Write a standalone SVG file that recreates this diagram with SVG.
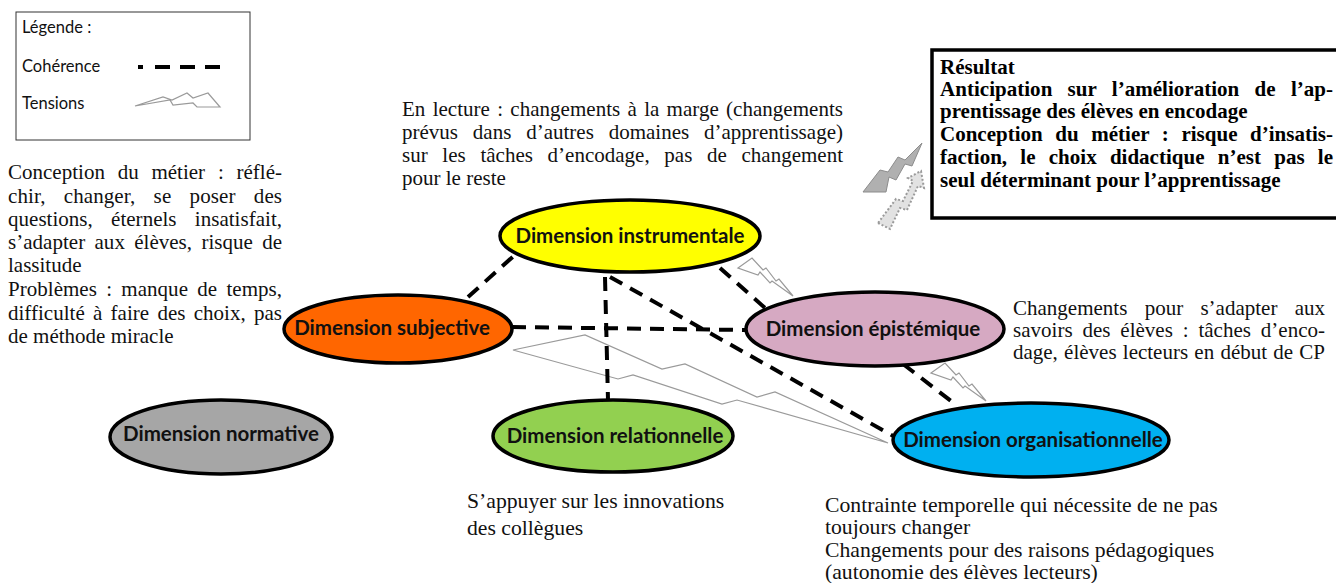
<svg xmlns="http://www.w3.org/2000/svg" width="1336" height="583" viewBox="0 0 1336 583">
<style>
.bg{fill:#ffffff}
.ell{stroke:#000;stroke-width:3.5}
.lbl{font-family:Lato,"Open Sans",sans-serif;font-weight:bold;font-size:20.5px;fill:#111;text-anchor:middle}
.leg{font-family:Lato,"Open Sans",sans-serif;font-size:16.5px;fill:#111}
.txt{font-family:"Liberation Serif",serif;font-size:21px;fill:#111}
.txb{font-family:"Liberation Serif",serif;font-size:21.7px;fill:#111}
.res{font-family:"Liberation Serif",serif;font-size:21px;font-weight:bold;fill:#000}
.dash{stroke:#000;stroke-width:4;fill:none;stroke-dasharray:14 9}
.ten{stroke:#9a9a9a;stroke-width:1.2;fill:none;stroke-linejoin:miter}
</style>
<rect class="bg" x="0" y="0" width="1336" height="583"/>

<g id="legend">
<rect x="16" y="12" width="234" height="128" fill="none" stroke="#333" stroke-width="1"/>
<text class="leg" x="22" y="33">Légende :</text>
<text class="leg" x="22" y="72">Cohérence</text>
<text class="leg" x="22" y="109">Tensions</text>
<line x1="138" y1="67" x2="220" y2="67" stroke="#000" stroke-width="4" stroke-dasharray="5 12 15 10 15 10 15"/>
<path class="ten" d="M135,106 L163,97 L172,100 L187,93 L193,98 L208,93 L220,107 L197,107 L193,103 L173,105 L170,100 Z"/>
</g>

<g id="connectors">
<path class="ten" d="M513,350 L585,335 L662,369 L685,364 L757,397 L775,392 L888,443 L737,400 L722,404 L633,375 L618,379 Z"/>
<path class="ten" d="M738,268 L752,258 L763,270 L766,268 L776,281 L779,279 L793,296 L772,281 L770,283 L760,272 L758,275 Z"/>
<path class="ten" transform="translate(193,105)" d="M738,268 L752,258 L763,270 L766,268 L776,281 L779,279 L793,296 L772,281 L770,283 L760,272 L758,275 Z"/>
<line class="dash" x1="468" y1="297" x2="517" y2="253"/>
<line class="dash" x1="512" y1="327" x2="746" y2="330"/>
<line class="dash" x1="605" y1="277" x2="608" y2="400"/>
<line class="dash" x1="610" y1="277" x2="895" y2="437"/>
<line class="dash" x1="720" y1="268" x2="765" y2="308"/>
<line class="dash" x1="903" y1="364" x2="955" y2="404"/>
</g>

<g id="result-icons">
<path d="M863,192 L880,170 L888,172 L898,157 L905,160 L922,143 L912,166 L905,164 L896,180 L889,177 L886,192 Z" fill="#b0b0b0" stroke="#8c8c8c" stroke-width="1"/>
<path d="M878,223 L890,229 L900,208 L907,210 L918,186 L924,188 L921,171 L908,178 L913,181 L903,201 L896,199 Z" fill="#e2e2e2" stroke="#9a9a9a" stroke-width="2" stroke-dasharray="2 2"/>
</g>

<g id="node-instrumentale">
<ellipse class="ell" cx="630" cy="236" rx="130" ry="36" fill="#ffff00"/>
<text class="lbl" x="630" y="243">Dimension instrumentale</text>
</g>
<g id="node-subjective">
<ellipse class="ell" cx="398" cy="329" rx="114" ry="34" fill="#ff6600"/>
<text class="lbl" x="392" y="335">Dimension subjective</text>
</g>
<g id="node-normative">
<ellipse class="ell" cx="221" cy="437" rx="111" ry="37" fill="#a6a6a6"/>
<text class="lbl" x="221" y="441">Dimension normative</text>
</g>
<g id="node-relationnelle">
<ellipse class="ell" cx="613" cy="436" rx="120" ry="36" fill="#92d050"/>
<text class="lbl" x="615" y="443">Dimension relationnelle</text>
</g>
<g id="node-epistemique">
<ellipse class="ell" cx="875" cy="329" rx="129" ry="37" fill="#d6a9c2"/>
<text class="lbl" x="873" y="336">Dimension épistémique</text>
</g>
<g id="node-organisationnelle">
<ellipse class="ell" cx="1031" cy="440" rx="138" ry="37" fill="#00b0f0"/>
<text class="lbl" x="1033" y="447">Dimension organisationnelle</text>
</g>

<g id="text-subjective">
<text class="txt" x="8" y="179" word-spacing="7.5" textLength="274" lengthAdjust="spacing">Conception du métier : réflé-</text>
<text class="txt" x="8" y="203" word-spacing="13" textLength="274" lengthAdjust="spacing">chir, changer, se poser des</text>
<text class="txt" x="8" y="226" word-spacing="13" textLength="274" lengthAdjust="spacing">questions, éternels insatisfait,</text>
<text class="txt" x="8" y="249" word-spacing="4" textLength="274" lengthAdjust="spacing">s’adapter aux élèves, risque de</text>
<text class="txt" x="8" y="272">lassitude</text>
<text class="txt" x="8" y="296" word-spacing="4" textLength="274" lengthAdjust="spacing">Problèmes : manque de temps,</text>
<text class="txt" x="8" y="320" word-spacing="3" textLength="274" lengthAdjust="spacing">difficulté à faire des choix, pas</text>
<text class="txt" x="8" y="343">de méthode miracle</text>
</g>

<g id="text-instrumentale">
<text class="txt" x="402" y="116" word-spacing="2" textLength="441" lengthAdjust="spacing">En lecture : changements à la marge (changements</text>
<text class="txt" x="402" y="139" word-spacing="9.5" textLength="441" lengthAdjust="spacing">prévus dans d’autres domaines d’apprentissage)</text>
<text class="txt" x="402" y="162" word-spacing="9.4" textLength="441" lengthAdjust="spacing">sur les tâches d’encodage, pas de changement</text>
<text class="txt" x="402" y="185">pour le reste</text>
</g>

<g id="text-epistemique">
<text class="txt" x="1013" y="315" word-spacing="12" textLength="312" lengthAdjust="spacing">Changements pour s’adapter aux</text>
<text class="txt" x="1013" y="337" word-spacing="4.6" textLength="312" lengthAdjust="spacing">savoirs des élèves : tâches d’enco-</text>
<text class="txt" x="1013" y="359" word-spacing="1" textLength="312" lengthAdjust="spacing">dage, élèves lecteurs en début de CP</text>
</g>

<g id="text-relationnelle">
<text class="txb" x="467" y="508">S’appuyer sur les innovations</text>
<text class="txb" x="467" y="535">des collègues</text>
</g>

<g id="text-organisationnelle">
<text class="txb" x="825" y="512">Contrainte temporelle qui nécessite de ne pas</text>
<text class="txb" x="825" y="534">toujours changer</text>
<text class="txb" x="825" y="557">Changements pour des raisons pédagogiques</text>
<text class="txb" x="825" y="579">(autonomie des élèves lecteurs)</text>
</g>

<g id="result">
<rect x="932" y="50" width="410" height="168" fill="#fff" stroke="#000" stroke-width="3.5"/>
<text class="res" x="940" y="74">Résultat</text>
<text class="res" x="940" y="96" word-spacing="10" textLength="393" lengthAdjust="spacing">Anticipation sur l’amélioration de l’ap-</text>
<text class="res" x="940" y="118">prentissage des élèves en encodage</text>
<text class="res" x="940" y="141" word-spacing="7.3" textLength="393" lengthAdjust="spacing">Conception du métier : risque d’insatis-</text>
<text class="res" x="940" y="164" word-spacing="8" textLength="393" lengthAdjust="spacing">faction, le choix didactique n’est pas le</text>
<text class="res" x="940" y="187">seul déterminant pour l’apprentissage</text>
</g>
</svg>
